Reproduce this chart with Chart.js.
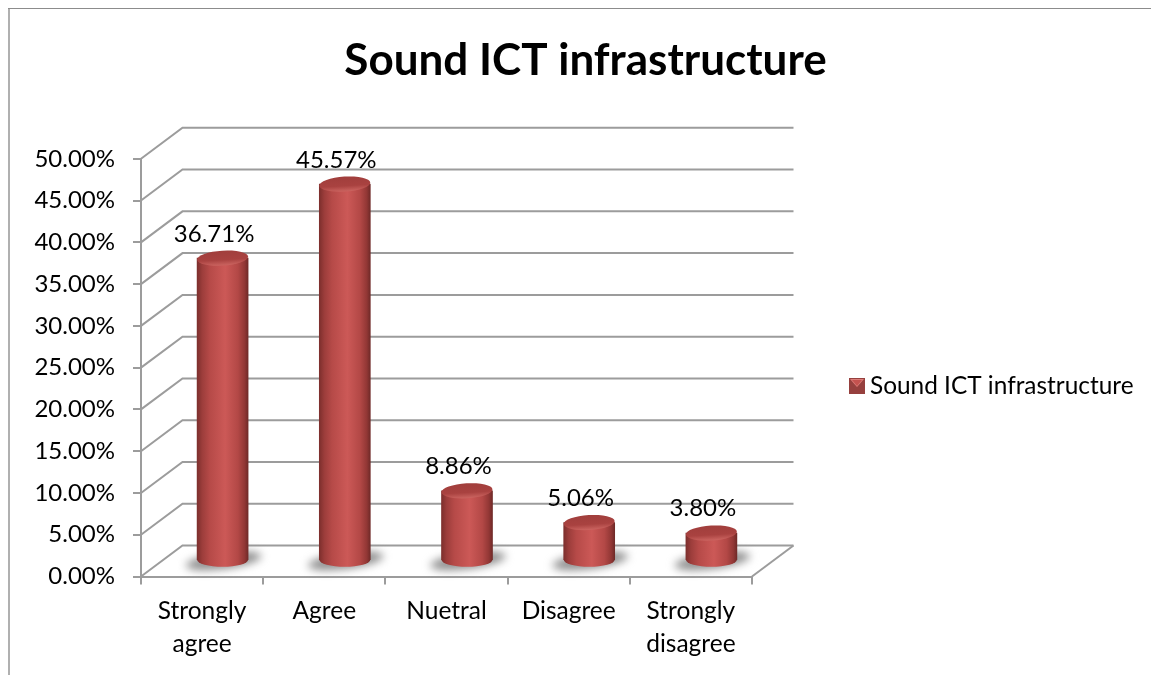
<!DOCTYPE html>
<html>
<head>
<meta charset="utf-8">
<title>Sound ICT infrastructure</title>
<script src="https://cdn.jsdelivr.net/npm/chart.js@4/dist/chart.umd.js"></script>
<style>
    html, body { margin: 0; padding: 0; background: #fff; overflow: hidden; }
    canvas { display: block; }
</style>
</head>
<body>
<canvas id="soundChart" width="1151" height="675"></canvas>
<script>
// data
const categories = [['Strongly', 'agree'], 'Agree', 'Nuetral', 'Disagree', ['Strongly', 'disagree']];
const seriesName = 'Sound ICT infrastructure';
const seriesValues = [36.71, 45.57, 8.86, 5.06, 3.80];
const axisMax = 50;
const axisStep = 5;

const fontName = 'Lato, Carlito, sans-serif';
const lineColor = '#9c9c9c';

// 3D look: the back wall sits up and to the right of the front axes
const depthX = 41.5;
const depthY = 31;
const barShiftX = 20.5;
const barShiftY = 11.7;
const barWidth = 51;

function barFill(context) {
    if (context.dataIndex === undefined) return '#c0504d';
    const x = context.chart.scales.x.getPixelForValue(context.dataIndex);
    // scale is not placed yet on the very first pass
    if (!Number.isFinite(x)) return '#c0504d';
    const g = context.chart.ctx.createLinearGradient(x - barWidth / 2, 0, x + barWidth / 2, 0);
    g.addColorStop(0, '#7d2f2d');
    g.addColorStop(0.1, '#9c3d3b');
    g.addColorStop(0.25, '#b64a48');
    g.addColorStop(0.55, '#cc5957');
    g.addColorStop(0.8, '#b34846');
    g.addColorStop(0.93, '#923735');
    g.addColorStop(1, '#702a28');
    return g;
}

const walls3d = {
    id: 'walls3d',
    beforeDraw(chart) {
        const ctx = chart.ctx;
        ctx.save();
        ctx.fillStyle = '#fff';
        ctx.fillRect(0, 0, chart.width, chart.height);
        ctx.fillStyle = '#b0b0b0';
        ctx.fillRect(8, 9, 2, chart.height - 9);
        ctx.fillStyle = '#8c8c8c';
        ctx.fillRect(8, 8, chart.width - 8, 1);
        ctx.restore();
    },
    beforeDatasetsDraw(chart) {
        const ctx = chart.ctx;
        const y = chart.scales.y;
        const area = chart.chartArea;

        ctx.save();
        ctx.strokeStyle = lineColor;
        ctx.lineWidth = 2;
        y.ticks.forEach(t => {
            const py = y.getPixelForValue(t.value);
            ctx.beginPath();
            ctx.moveTo(area.left, py);
            ctx.lineTo(area.left + depthX, py - depthY);
            ctx.lineTo(area.right + depthX, py - depthY);
            ctx.stroke();
        });
        ctx.beginPath();
        ctx.moveTo(area.right, area.bottom);
        ctx.lineTo(area.right + depthX, area.bottom - depthY);
        ctx.stroke();

        // soft shadows on the floor
        ctx.filter = 'blur(4px)';
        ctx.fillStyle = '#8f8f8f';
        chart.getDatasetMeta(0).data.forEach(bar => {
            ctx.beginPath();
            ctx.ellipse(bar.x + barShiftX + 1, bar.base - barShiftY + 1, 38, 8, -0.13, 0, Math.PI * 2);
            ctx.fill();
        });
        ctx.restore();

        // bars get drawn by the library inside this shift
        ctx.save();
        ctx.translate(barShiftX, -barShiftY);
    },
    afterDatasetsDraw(chart) {
        const ctx = chart.ctx;
        const meta = chart.getDatasetMeta(0);
        meta.data.forEach(bar => {
            const rx = barWidth / 2;

            // rounded foot
            ctx.fillStyle = bar.options.backgroundColor;
            ctx.beginPath();
            ctx.ellipse(bar.x, bar.base, rx, 7, 0, 0, Math.PI);
            ctx.fill();

            // top of the cylinder, lower half carries on from the sides
            ctx.save();
            ctx.translate(bar.x, bar.y);
            ctx.rotate(-0.06);
            const cap = ctx.createLinearGradient(0, -8, 0, 7);
            cap.addColorStop(0, '#a03e3c');
            cap.addColorStop(0.65, '#a94240');
            cap.addColorStop(1, '#c9625e');
            ctx.fillStyle = cap;
            ctx.beginPath();
            ctx.ellipse(0, 0, rx, 7.5, 0, 0, Math.PI * 2);
            ctx.fill();
            ctx.restore();
        });
        ctx.restore();

        // value labels
        ctx.save();
        ctx.font = '24px ' + fontName;
        ctx.fillStyle = '#000';
        ctx.textAlign = 'center';
        ctx.textBaseline = 'middle';
        meta.data.forEach((bar, i) => {
            ctx.fillText(seriesValues[i].toFixed(2) + '%', bar.x + 12, bar.y - 36);
        });
        ctx.restore();
    },
    afterDraw(chart) {
        // legend sits well right of the plot, the built-in one gets squeezed there
        const ctx = chart.ctx;
        const x = 849;
        const y = 378;
        ctx.save();
        ctx.fillStyle = '#96403e';
        ctx.fillRect(x, y, 16, 16);
        ctx.fillStyle = '#dc7d79';
        ctx.beginPath();
        ctx.moveTo(x + 1, y + 1);
        ctx.lineTo(x + 15, y + 1);
        ctx.lineTo(x + 8, y + 9);
        ctx.closePath();
        ctx.fill();
        ctx.fillStyle = '#c4524f';
        ctx.beginPath();
        ctx.moveTo(x + 3, y + 2);
        ctx.lineTo(x + 13, y + 2);
        ctx.lineTo(x + 8, y + 8);
        ctx.closePath();
        ctx.fill();
        ctx.font = '24.4px ' + fontName;
        ctx.fillStyle = '#000';
        ctx.textBaseline = 'middle';
        ctx.fillText(chart.data.datasets[0].label, x + 21, y + 8);
        ctx.restore();
    }
};

new Chart(document.getElementById('soundChart'), {
    type: 'bar',
    data: {
        labels: categories,
        datasets: [{
            label: seriesName,
            data: seriesValues,
            base: 0.6,
            backgroundColor: barFill,
            barThickness: barWidth
        }]
    },
    plugins: [walls3d],
    options: {
        responsive: false,
        animation: false,
        layout: {padding: {left: 20, right: 0, top: 0, bottom: 0}},
        plugins: {
            title: {
                display: true,
                text: seriesName,
                color: '#000',
                font: {family: fontName, size: 44, weight: 'bold'},
                padding: {top: 34, bottom: 72}
            },
            legend: {display: false},
            tooltip: {enabled: false}
        },
        scales: {
            x: {
                grid: {drawOnChartArea: false, color: lineColor, lineWidth: 2, tickLength: 8},
                border: {color: lineColor, width: 2},
                ticks: {
                    color: '#000',
                    font: {family: fontName, size: 24.5, lineHeight: 1.31},
                    maxRotation: 0,
                    autoSkip: false,
                    padding: 11
                },
                afterFit: s => { s.height = 98.5; }
            },
            y: {
                min: 0,
                max: axisMax,
                grid: {drawOnChartArea: false, color: lineColor, lineWidth: 2, tickLength: 8},
                border: {color: lineColor, width: 2},
                ticks: {
                    stepSize: axisStep,
                    color: '#000',
                    font: {family: fontName, size: 24},
                    padding: 18,
                    callback: v => v.toFixed(2) + '%'
                },
                afterFit: s => { s.width = 121; }
            },
            // empty axis, keeps the plot clear of the legend
            spacer: {
                position: 'right',
                grid: {display: false},
                border: {display: false},
                ticks: {display: false},
                afterFit: s => { s.width = 399; }
            }
        }
    }
});
</script>
</body>
</html>
